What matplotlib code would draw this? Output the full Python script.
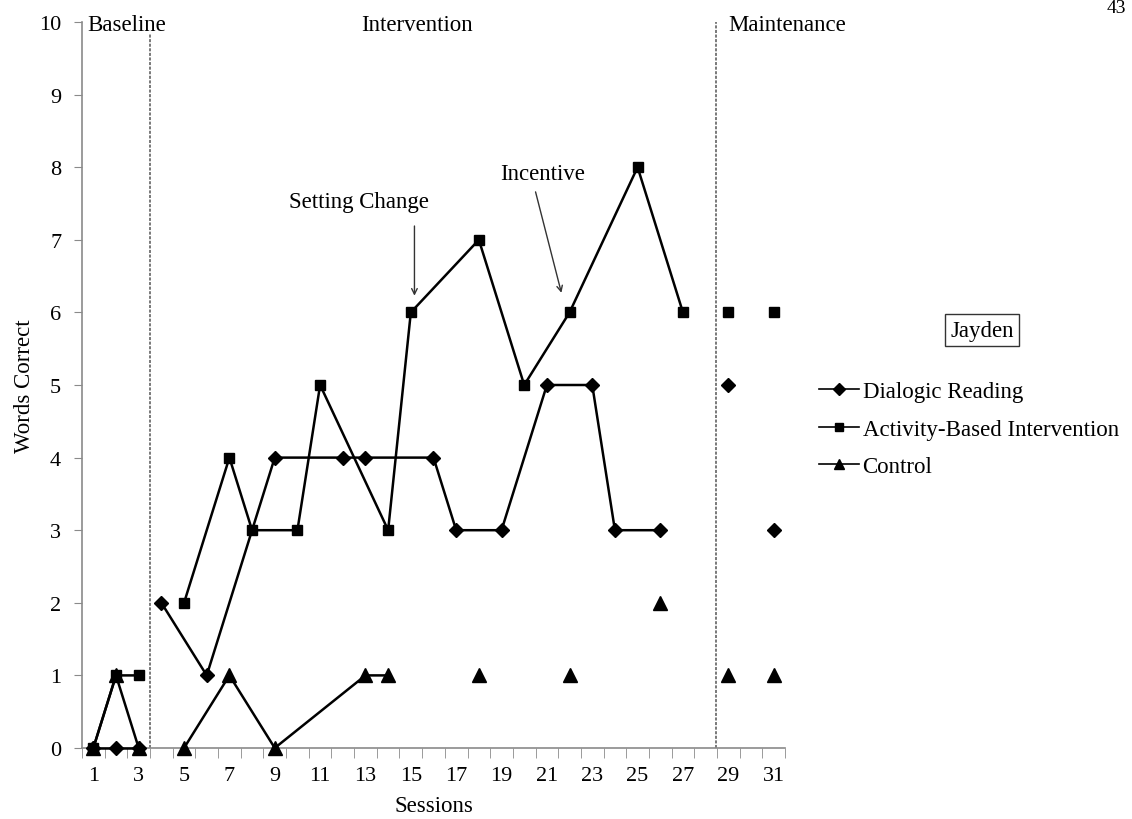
import numpy as np
import matplotlib.pyplot as plt
from matplotlib.lines import Line2D

plt.rcParams['font.family'] = ['Liberation Serif', 'DejaVu Serif']

# ==================
# session data (runs = which points are joined by a line)
# ==================
dr_sessions = [1, 2, 3, 4, 6, 9, 12, 13, 16, 17, 19, 21, 23, 24, 26, 29, 31]
dr_values = [0, 0, 0, 2, 1, 4, 4, 4, 4, 3, 3, 5, 5, 3, 3, 5, 3]
dr_runs = [0, 0, 0, 1, 1, 1, 1, 1, 1, 1, 1, 1, 1, 1, 1, 2, 3]

abi_sessions = [1, 2, 3, 5, 7, 8, 10, 11, 14, 15, 18, 20, 22, 25, 27, 29, 31]
abi_values = [0, 1, 1, 2, 4, 3, 3, 5, 3, 6, 7, 5, 6, 8, 6, 6, 6]
abi_runs = [0, 0, 0, 1, 1, 1, 1, 1, 1, 1, 1, 1, 1, 1, 1, 2, 3]

ctl_sessions = [1, 2, 3, 5, 7, 9, 13, 14, 18, 22, 26, 29, 31]
ctl_values = [0, 1, 0, 0, 1, 0, 1, 1, 1, 1, 2, 1, 1]
ctl_runs = [0, 0, 0, 1, 1, 1, 1, 1, 2, 3, 4, 5, 6]

series_labels = ['Dialogic Reading', 'Activity-Based Intervention', 'Control']
phase_names = ['Baseline', 'Intervention', 'Maintenance']
phase_breaks = [3.5, 28.45]
xtick_sessions = list(range(1, 32, 2))

FS = 16.5

fig = plt.figure(figsize=(11.32, 8.2), dpi=100)
ax = fig.add_axes([82 / 1132, 1 - 749 / 820, 703 / 1132, 726 / 820])


def draw_series(sessions, values, runs, marker, ms):
    sessions = np.array(sessions)
    values = np.array(values)
    runs = np.array(runs)
    for r in np.unique(runs):
        sel = runs == r
        ax.plot(sessions[sel], values[sel], color='black', lw=1.8,
                marker=marker, ms=ms, mfc='black', mec='black',
                clip_on=False, zorder=3)


draw_series(ctl_sessions, ctl_values, ctl_runs, '^', 9.5)
draw_series(abi_sessions, abi_values, abi_runs, 's', 6.5)
draw_series(dr_sessions, dr_values, dr_runs, 'D', 7.5)

ax.set_xlim(0.5, 31.5)
ax.set_ylim(0, 10)
ax.set_yticks(range(0, 11))
ax.set_xticks(xtick_sessions)
ax.set_xticks(np.arange(0.5, 32, 1), minor=True)
ax.tick_params(axis='x', which='major', length=0, pad=13, labelsize=16)
ax.tick_params(axis='x', which='minor', length=7, color='#8a8a8a', direction='out')
ax.tick_params(axis='y', length=6, color='#8a8a8a', labelsize=16, pad=9)
for s in ['top', 'right']:
    ax.spines[s].set_visible(False)
for s in ['left', 'bottom']:
    ax.spines[s].set_color('#8a8a8a')
    ax.spines[s].set_linewidth(1.2)

ax.set_xlabel('Sessions', fontsize=FS, labelpad=7)
ax.set_ylabel('Words Correct', fontsize=FS, labelpad=3)

# phase change lines
ax.vlines(phase_breaks[0], 0, 9.83, colors='#555555', linestyles=(0, (2, 1)), lw=1.1)
ax.vlines(phase_breaks[1], 0, 10.0, colors='#555555', linestyles=(0, (2, 1)), lw=1.1)

ax.text(0.74, 9.97, phase_names[0], fontsize=FS, va='center', ha='left')
ax.text(15.25, 9.97, phase_names[1], fontsize=FS, va='center', ha='center')
ax.text(29.0, 9.97, phase_names[2], fontsize=FS, va='center', ha='left')

# annotations
arrow_kw = dict(arrowstyle='->', color='#333333', lw=1, shrinkA=0, shrinkB=0)
ax.text(12.73, 7.53, 'Setting Change', fontsize=FS, ha='center', va='center')
ax.annotate('', xy=(15.16, 6.23), xytext=(15.16, 7.19), arrowprops=arrow_kw)
ax.text(20.8, 7.91, 'Incentive', fontsize=FS, ha='center', va='center')
ax.annotate('', xy=(21.64, 6.27), xytext=(20.5, 7.66), arrowprops=arrow_kw)

# legend
handles = [
    Line2D([], [], color='black', lw=1.2, marker='D', ms=6.5, mfc='black'),
    Line2D([], [], color='black', lw=1.2, marker='s', ms=5.5, mfc='black'),
    Line2D([], [], color='black', lw=1.2, marker='^', ms=7.5, mfc='black'),
]
fig.legend(handles, series_labels, loc='upper left',
           bbox_to_anchor=(819 / 1132, 1 - 382 / 820), frameon=False,
           fontsize=FS, handlelength=1.75, handletextpad=0.15,
           labelspacing=0.72, borderpad=0, borderaxespad=0)

fig.text(982 / 1132, 1 - 331 / 820, 'Jayden', fontsize=FS, ha='center',
         va='center', bbox=dict(boxstyle='square,pad=0.25', fc='white',
                                ec='#333333', lw=1))

fig.text(1116 / 1132, 1.0, '43', fontsize=14, ha='center', va='top')

fig.savefig('out.png', dpi=100)
